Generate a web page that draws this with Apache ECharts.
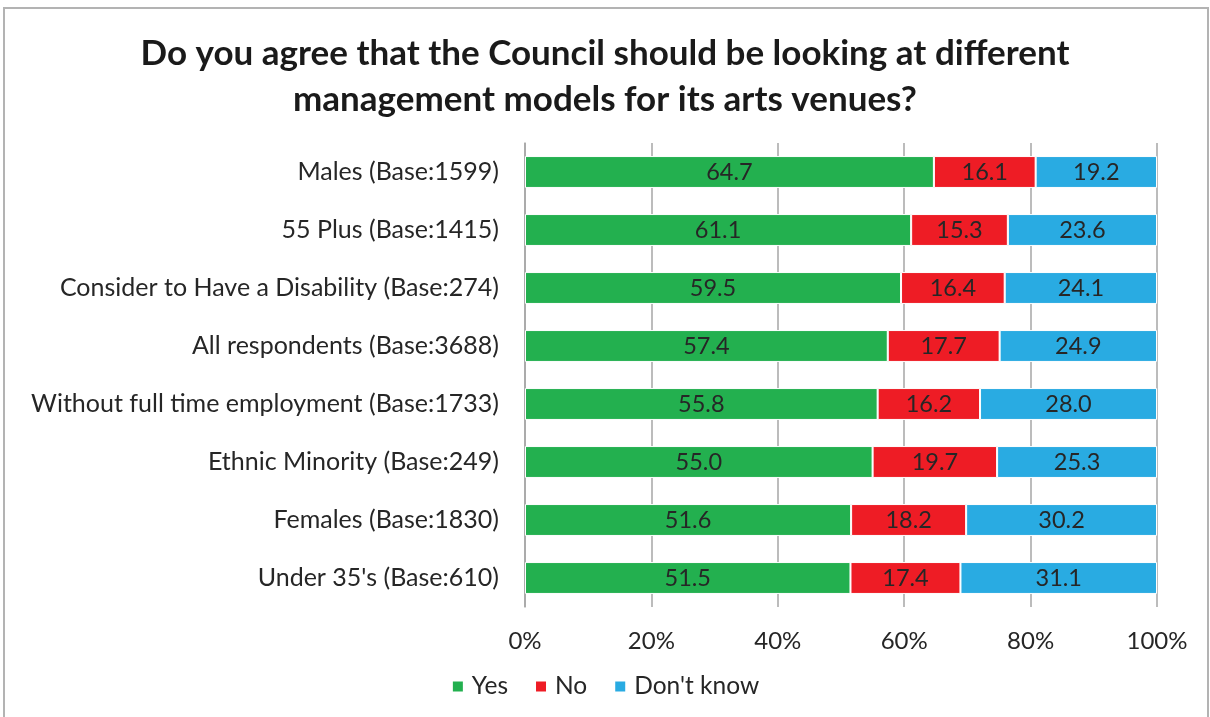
<!DOCTYPE html>
<html><head><meta charset="utf-8">
<script src="https://cdn.jsdelivr.net/npm/echarts@6/dist/echarts.min.js"></script>
<style>
html,body{margin:0;padding:0;background:#fff;overflow:hidden;}
#c{position:absolute;left:3px;top:7px;width:1206px;height:720px;border:2px solid #b3b3b3;border-bottom:none;box-sizing:border-box;}
#chart{width:1210px;height:717px;position:absolute;left:0;top:0;}
</style></head>
<body>
<div id="c"></div>
<div id="chart"></div>
<script>
const categories = ["Males (Base:1599)","55 Plus (Base:1415)","Consider to Have a Disability (Base:274)","All respondents (Base:3688)","Without full time employment (Base:1733)","Ethnic Minority (Base:249)","Females (Base:1830)","Under 35's (Base:610)"];
const yesValues = [64.7,61.1,59.5,57.4,55.8,55.0,51.6,51.5];
const noValues = [16.1,15.3,16.4,17.7,16.2,19.7,18.2,17.4];
const dontKnowValues = [19.2,23.6,24.1,24.9,28.0,25.3,30.2,31.1];
const tickValues = [0,20,40,60,80,100];

const font = "Lato, sans-serif";
const chart = echarts.init(document.getElementById('chart'));
function mk(name, data, color){
  return {name, type:'bar', stack:'t', data, barWidth:'55%',
    itemStyle:{color, borderColor:'#fff', borderWidth:1},
    label:{show:true, position:'inside', color:'#262626', fontFamily:font, fontSize:23.5,
      formatter:p=>Number(p.value).toFixed(1)}};
}
chart.setOption({
  animation:false,
  title:{text:'Do you agree that the Council should be looking at different\nmanagement models for its arts venues?',
    left:'center', top:26, textStyle:{fontFamily:font, fontWeight:'bold', fontSize:35, lineHeight:46, color:'#1a1a1a'}},
  legend:{bottom:13, left:'center', itemWidth:12, itemHeight:12, itemGap:26, icon:'rect',
    textStyle:{fontFamily:font, fontSize:24.5, color:'#262626', padding:[0,0,0,3]}},
  grid:{left:525, right:53, top:143, bottom:110},
  xAxis:{type:'value', min:0, max:100, interval:20,
    axisLabel:{formatter:v=>v+'%', fontFamily:font, fontSize:24, color:'#262626', margin:22},
    axisLine:{show:false}, axisTick:{show:false},
    splitLine:{lineStyle:{color:'#a6a6a6', width:1.5}}},
  yAxis:{type:'category', data:categories, inverse:true,
    axisLabel:{fontFamily:font, fontSize:25, color:'#262626', margin:26},
    axisLine:{lineStyle:{color:'#a6a6a6', width:1.5}}, axisTick:{show:false}},
  series:[mk('Yes', yesValues, '#23B04F'), mk('No', noValues, '#EE1C25'), mk("Don't know", dontKnowValues, '#29ABE2')]
});
</script>
</body></html>
